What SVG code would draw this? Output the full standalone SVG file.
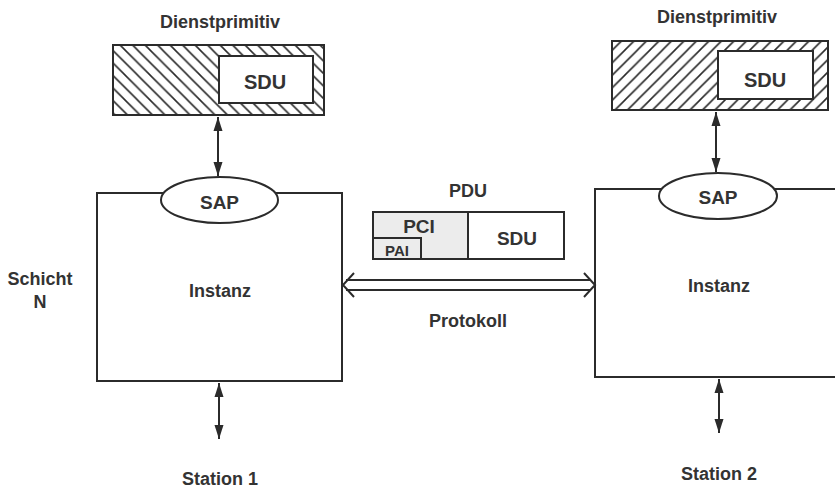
<svg xmlns="http://www.w3.org/2000/svg" width="835" height="489" viewBox="0 0 835 489">
<defs>
<style>
.ln{fill:none;stroke:#2b2b2b;stroke-width:2}
.bx{fill:#fff;stroke:#2b2b2b;stroke-width:2}
.t{font-family:"Liberation Sans",Arial,sans-serif;font-weight:bold;fill:#333;text-anchor:middle}
</style>
<pattern id="hatchL" patternUnits="userSpaceOnUse" width="12.5" height="12.5">
<path d="M-3,-3 L15.5,15.5 M-3,9.5 L3,15.5 M9.5,-3 L15.5,3" stroke="#2b2b2b" stroke-width="1.6"/>
</pattern>
<pattern id="hatchR" patternUnits="userSpaceOnUse" width="12.5" height="12.5">
<path d="M-3,15.5 L15.5,-3 M-3,3 L3,-3 M9.5,15.5 L15.5,9.5" stroke="#2b2b2b" stroke-width="1.6"/>
</pattern>
<marker id="ah" viewBox="0 0 14 10" refX="14" refY="5" markerWidth="14" markerHeight="10" markerUnits="userSpaceOnUse" orient="auto-start-reverse">
<path d="M0,0.5 L14,5 L0,9.5 Z" fill="#2b2b2b"/>
</marker>
</defs>
<rect width="835" height="489" fill="#fff"/>

<g id="dienst1">
<text class="t" x="220" y="28" font-size="18">Dienstprimitiv</text>
<rect x="113" y="45" width="211" height="70" fill="url(#hatchL)" stroke="#2b2b2b" stroke-width="2"/>
<rect class="bx" x="219" y="56" width="94" height="47"/>
<text class="t" x="265" y="89" font-size="20">SDU</text>
</g>

<g id="dienst2">
<text class="t" x="717" y="23" font-size="18">Dienstprimitiv</text>
<rect x="612" y="41" width="216" height="69" fill="url(#hatchR)" stroke="#2b2b2b" stroke-width="2"/>
<rect class="bx" x="718" y="51" width="95" height="48"/>
<text class="t" x="765" y="87" font-size="20">SDU</text>
</g>

<g id="instanz1">
<rect class="bx" x="97" y="193" width="245" height="188"/>
<text class="t" x="220" y="297" font-size="18">Instanz</text>
</g>
<g id="sap1">
<ellipse class="bx" cx="219.5" cy="200" rx="58.5" ry="23"/>
<text class="t" x="219.5" y="209" font-size="19">SAP</text>
</g>

<g id="instanz2">
<rect class="bx" x="595" y="189" width="250" height="188"/>
<text class="t" x="719" y="292" font-size="18">Instanz</text>
</g>
<g id="sap2">
<ellipse class="bx" cx="718" cy="196" rx="59" ry="23"/>
<text class="t" x="718" y="204" font-size="19">SAP</text>
</g>

<g id="schicht">
<text class="t" x="40" y="285" font-size="18">Schicht</text>
<text class="t" x="40" y="308" font-size="18">N</text>
</g>

<g id="pdu">
<text class="t" x="468" y="197" font-size="18">PDU</text>
<rect x="373" y="212" width="95" height="47" fill="#ececec" stroke="#2b2b2b" stroke-width="2"/>
<rect class="bx" x="468" y="212" width="96" height="47"/>
<rect x="373" y="238" width="48" height="21" fill="#ececec" stroke="#2b2b2b" stroke-width="2"/>
<text class="t" x="419" y="233" font-size="19">PCI</text>
<text class="t" x="397" y="256" font-size="15">PAI</text>
<text class="t" x="517" y="245" font-size="19">SDU</text>
</g>

<g id="station1">
<text class="t" x="220" y="485" font-size="18">Station 1</text>
</g>
<g id="station2">
<text class="t" x="719" y="480" font-size="18">Station 2</text>
</g>

<g id="connectors">
<line class="ln" x1="218" y1="117" x2="218" y2="176" marker-start="url(#ah)" marker-end="url(#ah)"/>
<line class="ln" x1="716" y1="112" x2="716" y2="172" marker-start="url(#ah)" marker-end="url(#ah)"/>
<line class="ln" x1="219" y1="383" x2="219" y2="439" marker-start="url(#ah)" marker-end="url(#ah)"/>
<line class="ln" x1="719" y1="379" x2="719" y2="433" marker-start="url(#ah)" marker-end="url(#ah)"/>
<g id="protokoll">
<line class="ln" x1="346" y1="280" x2="591" y2="280"/>
<line class="ln" x1="346" y1="290" x2="591" y2="290"/>
<path class="ln" d="M354,273 L343,285 L354,297"/>
<path class="ln" d="M584,273 L595,285 L584,297"/>
</g>
<text class="t" x="468" y="327" font-size="18">Protokoll</text>
</g>
</svg>
